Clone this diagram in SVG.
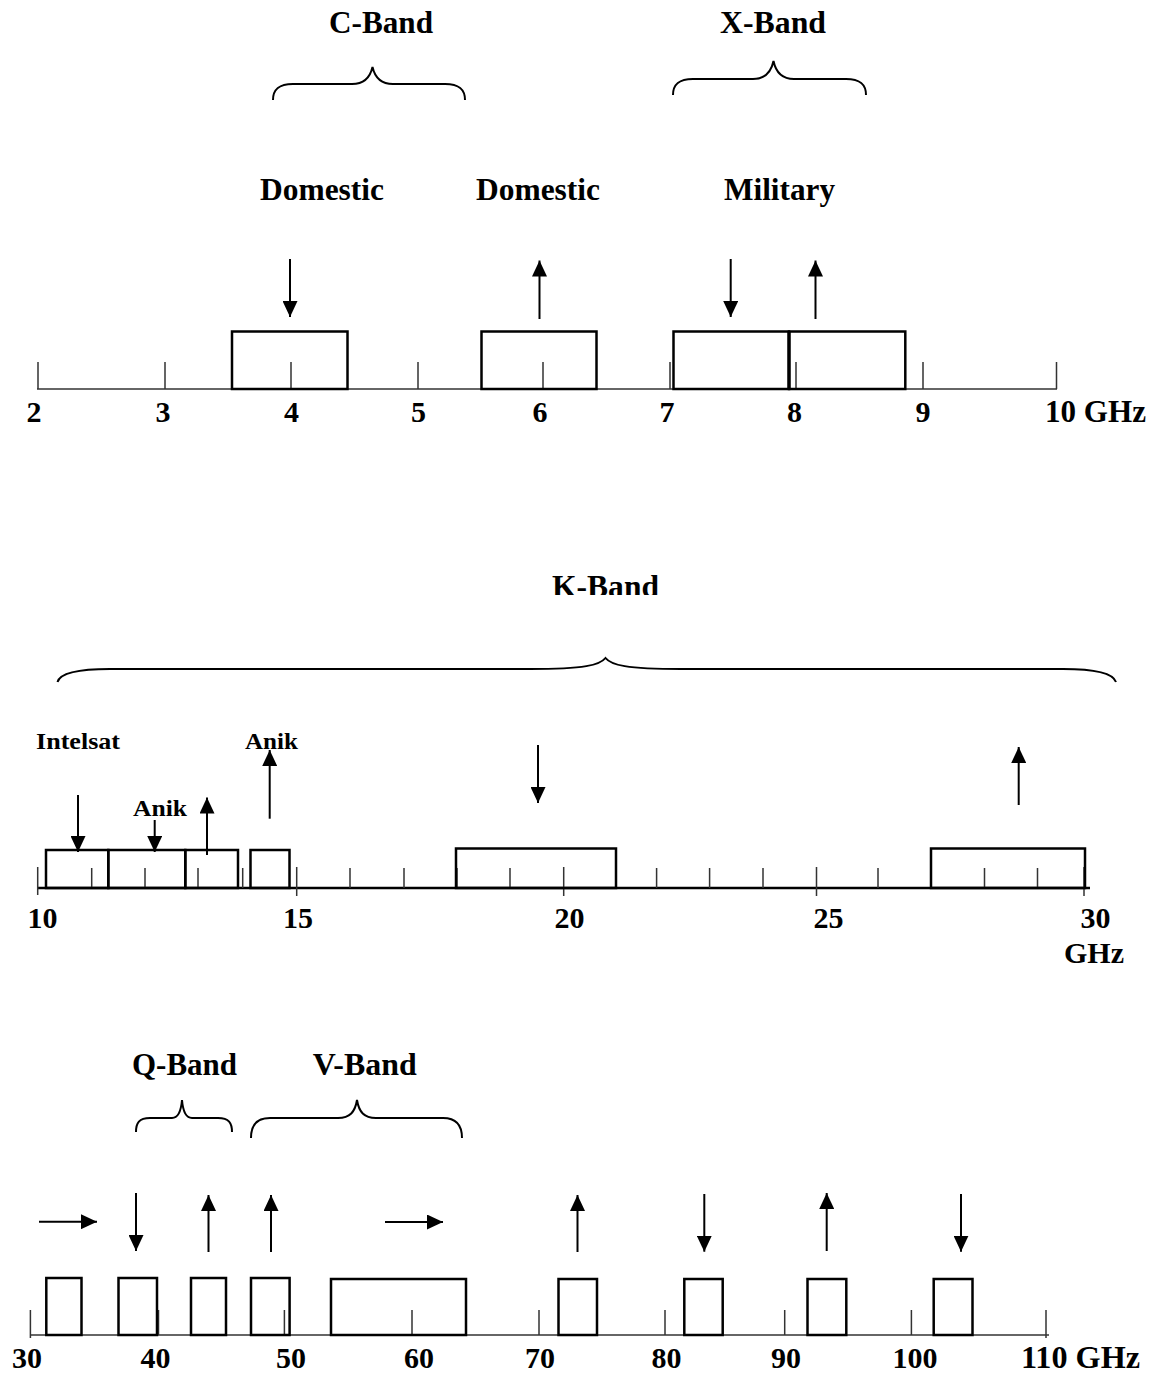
<svg xmlns="http://www.w3.org/2000/svg" width="1155" height="1374" viewBox="0 0 1155 1374">
<style>
text{font-family:"Liberation Serif","Times New Roman",serif;font-weight:bold;fill:#000}
.big{font-size:31px}
.num{font-size:30px;text-anchor:middle}
.sm{font-size:24px}
.box{fill:none;stroke:#000;stroke-width:2.5}
.axis{stroke:#333;stroke-width:1.6;fill:none}
.axis2{stroke:#000;stroke-width:2.5;fill:none}
.tick{stroke:#333;stroke-width:1.5}
.brace{fill:none;stroke:#000;stroke-width:2}
.arr{stroke:#000;stroke-width:2;fill:none;marker-end:url(#ah)}
</style>
<defs>
<marker id="ah" markerUnits="userSpaceOnUse" markerWidth="16" markerHeight="15" refX="16" refY="7.5" orient="auto"><path d="M0,0 L16,7.5 L0,15 Z" fill="#000"/></marker>
<clipPath id="kclip"><rect x="500" y="560" width="200" height="35"/></clipPath>
</defs>
<rect width="1155" height="1374" fill="#fff"/>

<!-- ===== Top section: 2-10 GHz ===== -->
<g id="top-labels">
<text class="big" x="329" y="33" textLength="104" lengthAdjust="spacingAndGlyphs">C-Band</text>
<text class="big" x="720" y="33" textLength="106" lengthAdjust="spacingAndGlyphs">X-Band</text>
<text class="big" x="260" y="200" textLength="124" lengthAdjust="spacingAndGlyphs">Domestic</text>
<text class="big" x="476" y="200" textLength="124" lengthAdjust="spacingAndGlyphs">Domestic</text>
<text class="big" x="724" y="200" textLength="111" lengthAdjust="spacingAndGlyphs">Military</text>
</g>
<g id="top-braces">
<path class="brace" d="M273,100 C273,90 278,84 293,84 L352,84 C364,84 370,78 372.5,67 C375,78 381,84 393,84 L445,84 C460,84 465,90 465,100"/>
<path class="brace" d="M673,95 C673,85 678,79 693,79 L753,79 C765,79 771,73 773.5,61 C776,73 782,79 794,79 L846,79 C861,79 866,85 866,95"/>
</g>
<g id="top-axis">
<line class="axis" x1="37" y1="389" x2="1057" y2="389"/>
<path class="tick" d="M38,362V389 M165,362V389 M291,362V389 M418,362V389 M543,362V389 M670,362V389 M796,362V389 M923,362V389 M1056.5,362V389"/>
<g class="num">
<text x="34" y="422">2</text>
<text x="163" y="422">3</text>
<text x="291.5" y="422">4</text>
<text x="418.5" y="422">5</text>
<text x="540" y="422">6</text>
<text x="667" y="422">7</text>
<text x="794.5" y="422">8</text>
<text x="923" y="422">9</text>
</g>
<text class="big" x="1045" y="422" textLength="101" lengthAdjust="spacingAndGlyphs">10 GHz</text>
</g>
<g id="top-boxes">
<rect class="box" x="232" y="331.5" width="115.5" height="57.5"/>
<rect class="box" x="481.5" y="331.5" width="115" height="57.5"/>
<rect class="box" x="673.5" y="331.5" width="115.5" height="57.5"/>
<rect class="box" x="789" y="331.5" width="116.3" height="57.5"/>
<line x1="789" y1="331.5" x2="789" y2="389" stroke="#000" stroke-width="3.2"/>
</g>

<!-- ===== Middle section: 10-30 GHz ===== -->
<g id="k-labels">
<text class="big" x="552" y="597" textLength="107" lengthAdjust="spacingAndGlyphs" clip-path="url(#kclip)">K-Band</text>
<path class="brace" d="M57.5,682 C60,673 78,669 110,669 L530,669 C585,669 600,665 605.5,658 C611,665 626,669 681,669 L1063,669 C1095,669 1113,673 1116,682"/>
<text class="sm" x="36" y="749" textLength="84" lengthAdjust="spacingAndGlyphs">Intelsat</text>
<text class="sm" x="133" y="816" textLength="54" lengthAdjust="spacingAndGlyphs">Anik</text>
<text class="sm" x="245" y="749" textLength="53" lengthAdjust="spacingAndGlyphs">Anik</text>
</g>
<g id="k-axis">
<line class="axis2" x1="37" y1="888" x2="1090" y2="888"/>
<path class="tick" d="M37.7,867V895 M91.7,868V888 M145,868V888 M198,868V888 M242.7,868V888 M296.7,867V896 M350,868V888 M404,868V888 M457,868V888 M510,868V888 M563.7,867V896 M616,868V888 M656.6,868V888 M709.6,868V888 M763,868V888 M816.5,867V896 M878,868V888 M931,868V888 M984.5,868V888 M1037.5,868V888 M1084,867V896"/>
<g class="num">
<text x="42.5" y="928">10</text>
<text x="298" y="928">15</text>
<text x="569.5" y="928">20</text>
<text x="828.5" y="928">25</text>
<text x="1095.5" y="928">30</text>
<text x="1094" y="963">GHz</text>
</g>
</g>
<g id="k-boxes">
<rect class="box" x="46" y="850" width="62.3" height="38"/>
<rect class="box" x="108.3" y="850" width="77" height="38"/>
<rect class="box" x="185.3" y="850" width="52.7" height="38"/>
<rect class="box" x="250.5" y="850" width="39" height="38"/>
<rect class="box" x="456" y="848.5" width="160" height="39.5"/>
<rect class="box" x="931" y="848.5" width="154" height="39.5"/>
</g>

<!-- ===== Bottom section: 30-110 GHz ===== -->
<g id="qv-labels">
<text class="big" x="132" y="1075" textLength="105" lengthAdjust="spacingAndGlyphs">Q-Band</text>
<text class="big" x="312.7" y="1075" textLength="104" lengthAdjust="spacingAndGlyphs">V-Band</text>
<path class="brace" d="M136,1132 C136,1123 139,1118 150,1118 L172,1118 C178,1118 181,1112 182,1100 C183,1112 186,1118 192,1118 L218,1118 C229,1118 232,1123 232,1132"/>
<path class="brace" d="M251,1138 C251,1126 256,1118 270,1118 L338,1118 C350,1118 355,1112 357,1100 C359,1112 364,1118 376,1118 L443,1118 C457,1118 462,1126 462,1138"/>
</g>
<g id="bottom-axis">
<line class="axis" x1="30" y1="1335" x2="1049" y2="1335" stroke-width="2"/>
<path class="tick" d="M30.4,1310V1338 M158.5,1310V1335 M284.4,1310V1335 M412,1310V1335 M539,1310V1335 M665,1310V1335 M784.7,1310V1335 M911.4,1310V1335 M1046,1310V1338"/>
<g class="num">
<text x="27" y="1368">30</text>
<text x="155.5" y="1368">40</text>
<text x="291" y="1368">50</text>
<text x="419" y="1368">60</text>
<text x="540" y="1368">70</text>
<text x="666.5" y="1368">80</text>
<text x="786" y="1368">90</text>
<text x="915" y="1368">100</text>
</g>
<text class="big" x="1021" y="1368" textLength="119" lengthAdjust="spacingAndGlyphs">110 GHz</text>
</g>
<g id="bottom-boxes">
<rect class="box" x="46.3" y="1278" width="35.2" height="57"/>
<rect class="box" x="118.5" y="1278" width="38.5" height="57"/>
<rect class="box" x="191" y="1278" width="35" height="57"/>
<rect class="box" x="251" y="1278" width="38.6" height="57"/>
<rect class="box" x="331" y="1279" width="135" height="56"/>
<rect class="box" x="558.5" y="1279" width="38.5" height="56"/>
<rect class="box" x="684.3" y="1279" width="38.4" height="56"/>
<rect class="box" x="807.5" y="1279" width="38.8" height="56"/>
<rect class="box" x="933.7" y="1279" width="38.8" height="56"/>
</g>

<!-- ===== Connectors (arrows) ===== -->
<g id="connectors">
<line class="arr" x1="290" y1="259" x2="290" y2="317"/>
<line class="arr" x1="539.5" y1="319" x2="539.5" y2="260.5"/>
<line class="arr" x1="730.7" y1="259" x2="730.7" y2="317"/>
<line class="arr" x1="815.5" y1="319" x2="815.5" y2="260.5"/>

<line class="arr" x1="78" y1="795" x2="78" y2="852"/>
<line class="arr" x1="154.7" y1="820" x2="154.7" y2="852"/>
<line class="arr" x1="207" y1="855" x2="207" y2="797.5"/>
<line class="arr" x1="269.7" y1="818.7" x2="269.7" y2="750"/>
<line class="arr" x1="538" y1="745" x2="538" y2="803"/>
<line class="arr" x1="1018.7" y1="805" x2="1018.7" y2="747"/>

<line class="arr" x1="39" y1="1221.7" x2="97" y2="1221.7"/>
<line class="arr" x1="136" y1="1193" x2="136" y2="1251"/>
<line class="arr" x1="208.5" y1="1252" x2="208.5" y2="1195"/>
<line class="arr" x1="271" y1="1252" x2="271" y2="1195"/>
<line class="arr" x1="385" y1="1222" x2="443" y2="1222"/>
<line class="arr" x1="577.5" y1="1252" x2="577.5" y2="1195"/>
<line class="arr" x1="704.3" y1="1194" x2="704.3" y2="1251.7"/>
<line class="arr" x1="826.7" y1="1251" x2="826.7" y2="1193"/>
<line class="arr" x1="961" y1="1194" x2="961" y2="1251.7"/>
</g>
</svg>
